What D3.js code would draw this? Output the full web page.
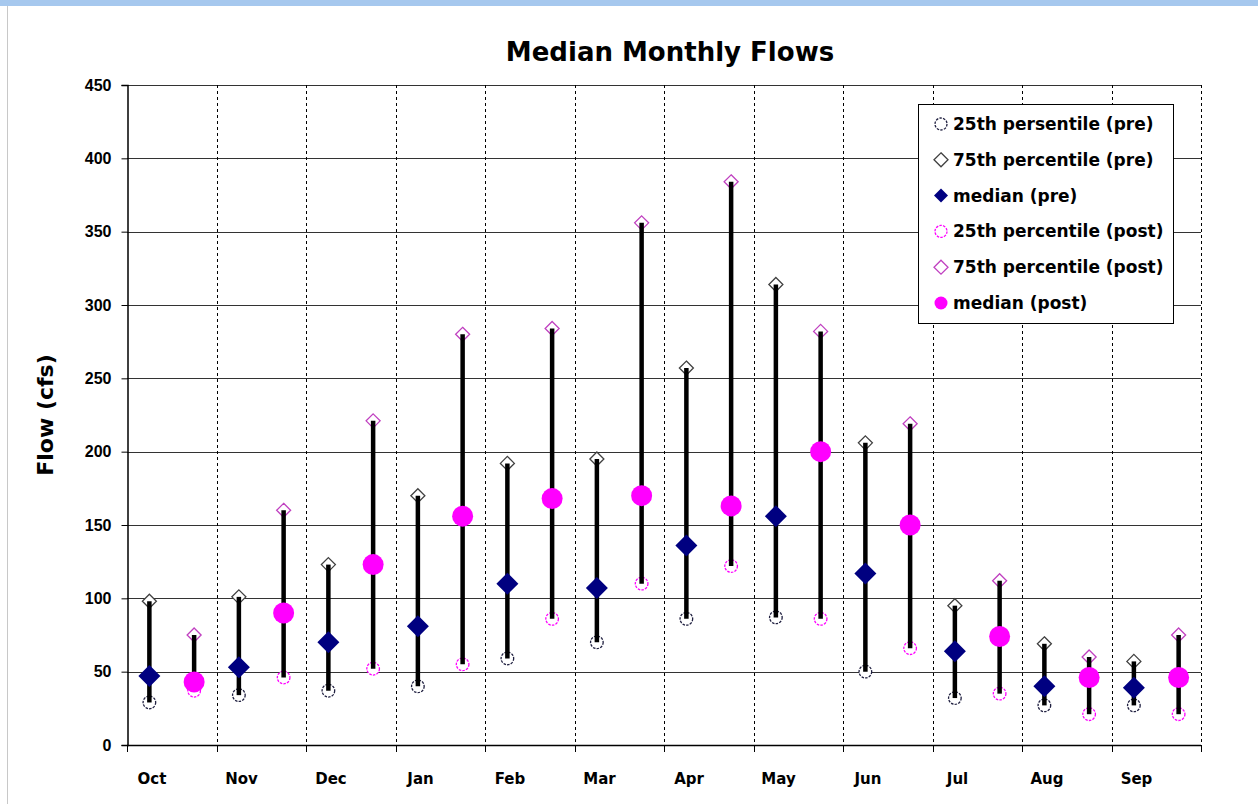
<!DOCTYPE html>
<html><head><meta charset="utf-8">
<script src="https://cdn.jsdelivr.net/npm/d3@7"></script>
<style>
html,body{margin:0;padding:0;background:#fff;}
svg{display:block;}
text{font-family:"Comic Sans MS","DejaVu Sans",sans-serif;font-weight:bold;fill:#000;}
</style></head><body>
<svg id="c" width="1258" height="804"></svg>
<script>
const months = ["Oct","Nov","Dec","Jan","Feb","Mar","Apr","May","Jun","Jul","Aug","Sep"];
const p25Pre  = [29,34,37,40,59,70,86,87,50,32,27,27];
const p75Pre  = [98,101,123,170,192,195,257,314,206,95,69,57];
const medPre  = [47,53,70,81,110,107,136,156,117,64,40,39];
const p25Post = [37,46,52,55,86,110,122,86,66,35,21,21];
const p75Post = [75,160,221,280,284,356,384,282,219,112,60,75];
const medPost = [43,90,123,156,168,170,163,200,150,74,46,46];
const yTicks = [0,50,100,150,200,250,300,350,400,450];
const legendLabels = ["25th persentile (pre)","75th percentile (pre)","median (pre)","25th percentile (post)","75th percentile (post)","median (post)"];

const svg = d3.select("#c");
// window chrome
svg.append("rect").attr("x",0).attr("y",0).attr("width",1258).attr("height",6).attr("fill","#a6c8ee");
svg.append("line").attr("x1",7.5).attr("x2",7.5).attr("y1",6).attr("y2",804).attr("stroke","#c8c8c8");

const L=127, R=1201, T=85, B=745;
const GRID="#333";
const x = d3.scaleBand().domain(months).range([L,R]).paddingInner(0).paddingOuter(0);
const half = d3.scaleBand().domain(["pre","post"]).range([0,x.bandwidth()]);
const y = d3.scaleLinear().domain([0,450]).range([B,T]);
const cx = (m,s)=> x(m)+half(s)+half.bandwidth()/2;

// horizontal gridlines
svg.append("g").selectAll("line").data(yTicks).join("line")
  .attr("x1",L).attr("x2",R).attr("y1",d=>Math.round(y(d))+0.5).attr("y2",d=>Math.round(y(d))+0.5)
  .attr("stroke",GRID).attr("stroke-width",1.2);
// vertical dashed gridlines
const bounds = months.map(m=>x(m)).concat([R]).slice(1);
svg.append("g").selectAll("line").data(bounds).join("line")
  .attr("x1",d=>Math.round(d)+0.5).attr("x2",d=>Math.round(d)+0.5).attr("y1",T).attr("y2",B)
  .attr("stroke","#000").attr("stroke-width",1).attr("stroke-dasharray","3,3");

// axes
const yAxis = d3.axisLeft(y).tickValues(yTicks).tickSize(6).tickPadding(10);
const gy = svg.append("g").attr("transform",`translate(${L+0.5},0)`).call(yAxis);
gy.select(".domain").attr("stroke","#000").attr("stroke-width",1.5);
gy.selectAll(".tick line").attr("stroke","#000");
gy.selectAll("text").style("font-size","16px").style("font-family","'Liberation Sans',Arial,sans-serif").attr("fill","#000");

const xt = months.map(m=>x(m)).concat([R]);
const gx = svg.append("g");
gx.append("line").attr("x1",L).attr("x2",R).attr("y1",B+0.5).attr("y2",B+0.5).attr("stroke","#000").attr("stroke-width",1.5);
gx.selectAll("line.t").data(xt).join("line").attr("class","t")
  .attr("x1",d=>Math.round(d)+0.5).attr("x2",d=>Math.round(d)+0.5).attr("y1",B).attr("y2",B+7).attr("stroke","#000");
gx.selectAll("text").data(months).join("text")
  .attr("x",m=>x(m)+25).attr("y",784).attr("text-anchor","middle").style("font-size","15px").text(d=>d);

// title
svg.append("text").attr("x",670).attr("y",61).attr("text-anchor","middle").style("font-size","26px").text("Median Monthly Flows");
svg.append("text").attr("transform","translate(53,415) rotate(-90)").attr("text-anchor","middle").style("font-size","22px").text("Flow (cfs)");

const NAVY="#000080", MAG="#ff00ff";
function diamond(X,Y,r){return `M${X},${Y-r}L${X+r},${Y}L${X},${Y+r}L${X-r},${Y}Z`;}
function series(lo,hi,med,s){
  const g = svg.append("g");
  g.selectAll("circle.lo").data(months).join("circle").attr("class","lo")
    .attr("cx",(m)=>cx(m,s)).attr("cy",(m,i)=>y(lo[i])).attr("r",6.3)
    .attr("fill","#fff").attr("stroke",s==="pre"?"#202040":MAG).attr("stroke-width",1.3).attr("stroke-dasharray","2.5,1.2");
  g.selectAll("path.hi").data(months).join("path").attr("class","hi")
    .attr("d",(m,i)=>diamond(cx(m,s),y(hi[i]),7))
    .attr("fill","#fff").attr("stroke",s==="pre"?"#404040":"#c040c0").attr("stroke-width",1.3);
  g.selectAll("line").data(months).join("line")
    .attr("x1",m=>cx(m,s)).attr("x2",m=>cx(m,s))
    .attr("y1",(m,i)=>y(lo[i])).attr("y2",(m,i)=>y(hi[i]))
    .attr("stroke","#000").attr("stroke-width",4.5);
  if(s==="pre"){
    g.selectAll("path.med").data(months).join("path").attr("class","med")
      .attr("d",(m,i)=>diamond(cx(m,s),y(med[i]),11)).attr("fill",NAVY);
  } else {
    g.selectAll("circle.med").data(months).join("circle").attr("class","med")
      .attr("cx",m=>cx(m,s)).attr("cy",(m,i)=>y(med[i])).attr("r",10.5).attr("fill",MAG);
  }
}
series(p25Pre,p75Pre,medPre,"pre");
series(p25Post,p75Post,medPost,"post");

// legend
const lg = svg.append("g");
lg.append("rect").attr("x",918.5).attr("y",104.5).attr("width",255).attr("height",219).attr("fill","#fff").attr("stroke","#000").attr("stroke-width",1);
legendLabels.forEach((lab,i)=>{
  const Y = 124 + i*35.8, X=941;
  if(i===0||i===3){
    lg.append("circle").attr("cx",X).attr("cy",Y).attr("r",6).attr("fill","#fff")
      .attr("stroke",i===0?"#202040":MAG).attr("stroke-width",1.3).attr("stroke-dasharray","2.5,1.2");
  } else if(i===1||i===4){
    lg.append("path").attr("d",diamond(X,Y,7)).attr("fill","#fff")
      .attr("stroke",i===1?"#404040":"#c040c0").attr("stroke-width",1.3);
  } else if(i===2){
    lg.append("path").attr("d",diamond(X,Y,7)).attr("fill",NAVY);
  } else {
    lg.append("circle").attr("cx",X).attr("cy",Y).attr("r",6.5).attr("fill",MAG);
  }
  lg.append("text").attr("x",953).attr("y",Y+6).style("font-size","17px").text(lab);
});
</script>
</body></html>
